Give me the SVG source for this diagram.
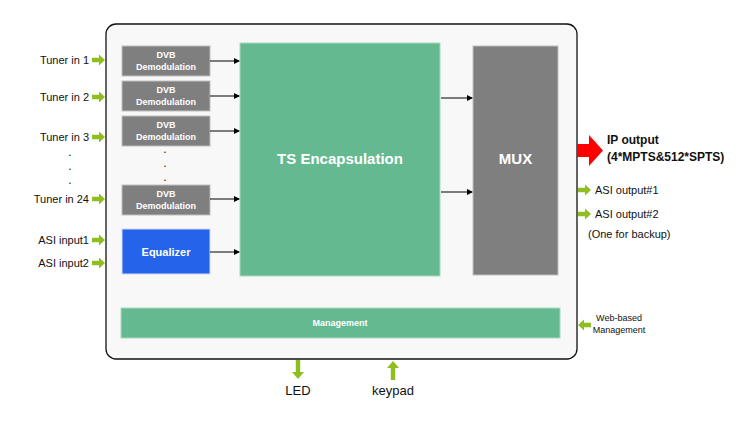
<svg xmlns="http://www.w3.org/2000/svg" width="748" height="425" viewBox="0 0 748 425">
<style>
.lbl{font-family:"Liberation Sans",Arial,sans-serif;font-size:11px;fill:#111}
.sm{font-size:9px}
.md{font-size:13px}
.dvb{fill:#7f7f7f;stroke:#bfbfbf;stroke-width:1}
.dvbt{font-family:"Liberation Sans",Arial,sans-serif;font-size:9px;font-weight:bold;fill:#fff;text-anchor:middle}
.grn{fill:#8fbe1f}
.conn{stroke:#000;stroke-width:1;fill:none}
.dot{font-family:"Liberation Sans",Arial,sans-serif;font-size:12px;fill:#111;text-anchor:middle}
</style>
<defs>
<marker id="ah" markerWidth="6" markerHeight="6" refX="5" refY="3" orient="auto" markerUnits="userSpaceOnUse">
<path d="M0,0 L6,3 L0,6 Z" fill="#000"/>
</marker>
<path id="ga" d="M-13,-2.2 L-6,-2.2 L-6,-5.5 L0,0 L-6,5.5 L-6,2.2 L-13,2.2 Z" class="grn"/>
<path id="gv" d="M-2.2,0 L2.2,0 L2.2,12 L6,12 L0,19 L-6,12 L-2.2,12 Z" class="grn"/>
</defs>
<rect width="748" height="425" fill="#fff"/>
<g id="chassis">
<rect x="106" y="24" width="471" height="335" rx="10" fill="#f8f8f8" stroke="#111" stroke-width="1.3"/>
</g>
<g id="dvb1"><rect class="dvb" x="122" y="46" width="88" height="30"/><text class="dvbt" x="166" y="58">DVB</text><text class="dvbt" x="166" y="70">Demodulation</text></g>
<g id="dvb2"><rect class="dvb" x="122" y="81" width="88" height="30"/><text class="dvbt" x="166" y="93">DVB</text><text class="dvbt" x="166" y="105">Demodulation</text></g>
<g id="dvb3"><rect class="dvb" x="122" y="116" width="88" height="30"/><text class="dvbt" x="166" y="128">DVB</text><text class="dvbt" x="166" y="140">Demodulation</text></g>
<g id="dvb24"><rect class="dvb" x="122" y="185" width="88" height="30"/><text class="dvbt" x="166" y="197">DVB</text><text class="dvbt" x="166" y="209">Demodulation</text></g>
<g id="dvbdots"><text class="dot" x="165" y="153">.</text><text class="dot" x="165" y="167">.</text><text class="dot" x="165" y="181">.</text></g>
<g id="equalizer"><rect x="122" y="229" width="88" height="45" fill="#2563eb" stroke="#cfd8f5" stroke-width="1"/><text x="166" y="256" font-family="'Liberation Sans',Arial,sans-serif" font-size="11" font-weight="bold" fill="#fff" text-anchor="middle">Equalizer</text></g>
<g id="ts"><rect x="240" y="43" width="200" height="233" fill="#64b990" stroke="#a9d9c0" stroke-width="1"/><text x="340" y="164" font-family="'Liberation Sans',Arial,sans-serif" font-size="15" font-weight="bold" fill="#fff" text-anchor="middle">TS Encapsulation</text></g>
<g id="mux"><rect x="473" y="46" width="85" height="229" fill="#7f7f7f" stroke="#bfbfbf" stroke-width="1"/><text x="515.5" y="164" font-family="'Liberation Sans',Arial,sans-serif" font-size="15" font-weight="bold" fill="#fff" text-anchor="middle">MUX</text></g>
<g id="management"><rect x="121" y="308" width="439" height="30" fill="#64b990" stroke="#a9d9c0" stroke-width="1"/><text x="340" y="326" font-family="'Liberation Sans',Arial,sans-serif" font-size="9" font-weight="bold" fill="#fff" text-anchor="middle">Management</text></g>
<g id="inputs">
<text class="lbl" x="89" y="64" text-anchor="end">Tuner in 1</text>
<text class="lbl" x="89" y="101" text-anchor="end">Tuner in 2</text>
<text class="lbl" x="89" y="141" text-anchor="end">Tuner in 3</text>
<text class="dot" x="70" y="156">.</text><text class="dot" x="70" y="170">.</text><text class="dot" x="70" y="184">.</text>
<text class="lbl" x="89" y="203" text-anchor="end">Tuner in 24</text>
<text class="lbl" x="89" y="244" text-anchor="end">ASI input1</text>
<text class="lbl" x="89" y="267" text-anchor="end">ASI input2</text>
<use href="#ga" x="105" y="60"/><use href="#ga" x="105" y="97"/><use href="#ga" x="105" y="137"/><use href="#ga" x="105" y="199"/><use href="#ga" x="105" y="240"/><use href="#ga" x="105" y="263"/>
</g>
<g id="outputs">
<path d="M577,144 L589,144 L589,135 L603,150.5 L589,166 L589,157 L577,157 Z" fill="#f00"/>
<text x="607" y="144" font-family="'Liberation Sans',Arial,sans-serif" font-size="12" font-weight="bold" fill="#111">IP output</text>
<text x="607" y="161" font-family="'Liberation Sans',Arial,sans-serif" font-size="12" font-weight="bold" fill="#111">(4*MPTS&amp;512*SPTS)</text>
<use href="#ga" x="591" y="190"/><use href="#ga" x="591" y="214"/>
<text class="lbl" x="595" y="194">ASI output#1</text>
<text class="lbl" x="595" y="218">ASI output#2</text>
<text class="lbl" x="588" y="238">(One for backup)</text>
<use href="#ga" transform="translate(578,325) rotate(180)"/>
<text class="lbl sm" x="619" y="321" text-anchor="middle">Web-based</text>
<text class="lbl sm" x="619" y="333" text-anchor="middle">Management</text>
<use href="#gv" x="298" y="360"/>
<text class="lbl md" x="298" y="395" text-anchor="middle">LED</text>
<use href="#gv" transform="translate(393,380) rotate(180)"/>
<text class="lbl md" x="393" y="395" text-anchor="middle">keypad</text>
</g>
<g id="connectors">
<line class="conn" x1="210" y1="61" x2="239" y2="61" marker-end="url(#ah)"/>
<line class="conn" x1="210" y1="96" x2="239" y2="96" marker-end="url(#ah)"/>
<line class="conn" x1="210" y1="131" x2="239" y2="131" marker-end="url(#ah)"/>
<line class="conn" x1="210" y1="199" x2="239" y2="199" marker-end="url(#ah)"/>
<line class="conn" x1="210" y1="252" x2="239" y2="252" marker-end="url(#ah)"/>
<line class="conn" x1="441" y1="98" x2="472" y2="98" marker-end="url(#ah)"/>
<line class="conn" x1="441" y1="192" x2="472" y2="192" marker-end="url(#ah)"/>
</g>
</svg>
